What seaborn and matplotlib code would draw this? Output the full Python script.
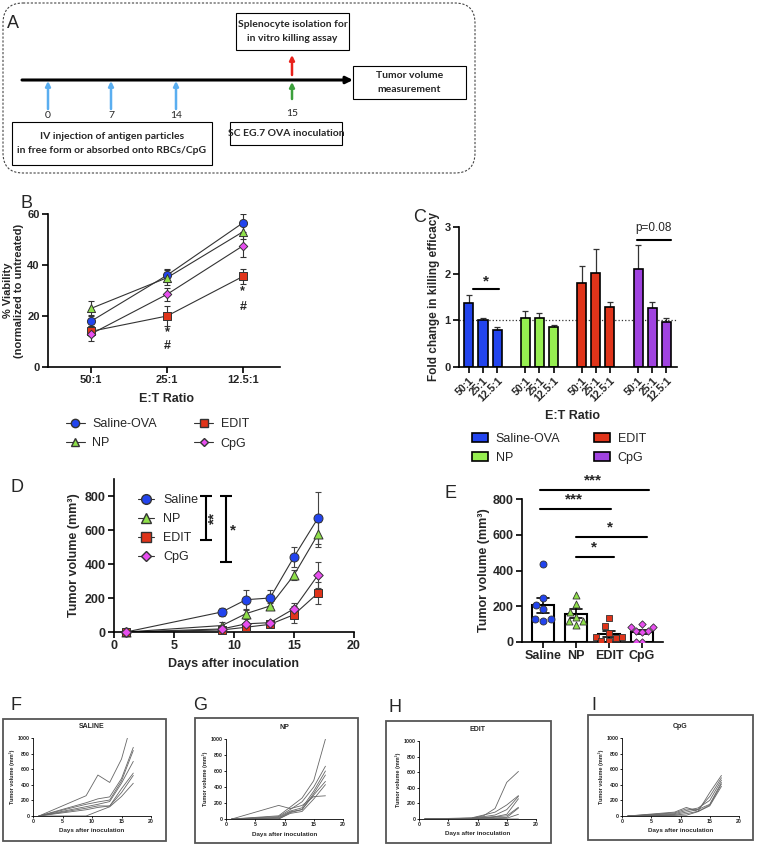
import numpy as np
import pandas as pd
import matplotlib
matplotlib.use("Agg")
import matplotlib.pyplot as plt
import seaborn as sns
from matplotlib.patches import FancyBboxPatch, Rectangle, Patch
from matplotlib.lines import Line2D

# ---------------- data ----------------
ratios = ["50:1", "25:1", "12.5:1"]
groups_b = ["Saline-OVA", "NP", "EDIT", "CpG"]

# B: % viability (mean, sem)
viab_saline = [18.0, 36.0, 56.5]
viab_np = [23.0, 35.0, 53.0]
viab_edit = [14.0, 20.0, 35.5]
viab_cpg = [13.0, 28.5, 47.5]
viab_saline_sem = [2.5, 2.5, 3.5]
viab_np_sem = [3.0, 3.0, 3.0]
viab_edit_sem = [2.0, 4.0, 3.0]
viab_cpg_sem = [3.0, 2.5, 4.5]

# C: fold change in killing efficacy
fold_saline = [1.38, 1.00, 0.80]
fold_np = [1.06, 1.05, 0.85]
fold_edit = [1.81, 2.02, 1.28]
fold_cpg = [2.09, 1.27, 0.96]
fold_saline_sem = [0.17, 0.05, 0.06]
fold_np_sem = [0.13, 0.11, 0.04]
fold_edit_sem = [0.36, 0.51, 0.11]
fold_cpg_sem = [0.52, 0.12, 0.10]

# D: tumor growth (mean, sem)
groups_d = ["Saline", "NP", "EDIT", "CpG"]
days = [1, 9, 11, 13, 15, 17]
vol_saline = [0, 118, 190, 200, 442, 670]
vol_np = [0, 38, 108, 153, 335, 575]
vol_edit = [0, 12, 28, 45, 102, 229]
vol_cpg = [0, 18, 48, 55, 137, 335]
vol_saline_sem = [0, 25, 58, 45, 57, 155]
vol_np_sem = [0, 22, 30, 15, 30, 75]
vol_edit_sem = [0, 6, 10, 10, 50, 65]
vol_cpg_sem = [0, 10, 10, 10, 35, 75]

# E: individual tumor volumes (day 13)
e_saline = [435, 245, 205, 187, 116, 128, 127]
e_np = [262, 215, 169, 140, 94, 118, 118]
e_edit = [135, 88, 51, 28, 6, 6, 22, 30]
e_cpg = [103, 84, 84, 60, 60, 56, 0, 0]

# F-I: individual mice
saline_mice = [[0, 260, 525, 430, 730, 1000],
               [0, 170, 220, 245, 480, 880],
               [0, 150, 180, 205, 450, 840],
               [0, 120, 150, 185, 420, 700],
               [0, 100, 130, 128, 350, 550],
               [0, 80, 110, 128, 300, 520],
               [0, 0, 60, 118, 250, 420]]
saline_mice_days = [[1, 9, 11, 13, 15, 16]] + [days] * 6
np_mice = [[0, 170, 130, 169, 280, 290],
           [0, 40, 150, 262, 480, 1000],
           [0, 30, 120, 215, 400, 660],
           [0, 20, 100, 140, 350, 600],
           [0, 10, 90, 118, 320, 550],
           [0, 0, 80, 118, 300, 470],
           [0, 0, 70, 94, 250, 430]]
edit_mice = [[0, 10, 40, 135, 470, 610],
             [0, 15, 50, 88, 180, 300],
             [0, 10, 30, 51, 120, 290],
             [0, 5, 20, 30, 60, 260],
             [0, 5, 15, 28, 40, 150],
             [0, 5, 10, 22, 20, 140],
             [0, 0, 5, 6, 10, 60],
             [0, 0, 0, 6, 0, 0]]
cpg_mice = [[0, 50, 110, 60, 300, 520],
            [0, 40, 90, 84, 250, 490],
            [0, 30, 70, 103, 200, 460],
            [0, 20, 50, 84, 150, 430],
            [0, 10, 30, 60, 140, 410],
            [0, 10, 10, 56, 130, 380],
            [0, 0, 0, 0, 0, 0],
            [0, 0, 0, 0, 0, 0]]

# ---------------- style ----------------
sns.set_theme(style="ticks")
plt.rcParams['font.family'] = ['Liberation Sans', 'DejaVu Sans']

blue, green, red, magenta, purple = '#2244ee', '#8fe04a', '#e0341a', '#e84ef0', '#a043e0'
pal_b = dict(zip(groups_b, [blue, green, red, magenta]))
pal_c = dict(zip(groups_b, [blue, '#96ee50', red, purple]))
pal_d = dict(zip(groups_d, [blue, green, red, magenta]))
mk_b = dict(zip(groups_b, ['o', '^', 's', 'D']))
mk_d = dict(zip(groups_d, ['o', '^', 's', 'D']))
msize = {'o': 1.0, '^': 1.0, 's': 0.9, 'D': 0.55}

W, H = 757, 847
fig = plt.figure(figsize=(W / 100, H / 100), dpi=100)


def px_axes(l, t, r, b):
    return fig.add_axes([l / W, 1 - b / H, (r - l) / W, (b - t) / H])


def gp_style(ax, size=8, lw=1.2, tick_len=4):
    sns.despine(ax=ax)
    for s in ['left', 'bottom']:
        ax.spines[s].set_linewidth(lw)
        ax.spines[s].set_color('black')
    ax.tick_params(labelsize=size, width=lw, length=tick_len, color='black', pad=2)
    for lab in ax.get_xticklabels() + ax.get_yticklabels():
        lab.set_fontweight('bold')


# overlay for panel A, letters, frames
ov = fig.add_axes([0, 0, 1, 1])
ov.set_xlim(0, W)
ov.set_ylim(H, 0)
ov.axis('off')

# ---------------- A: schematic ----------------
ov.add_patch(FancyBboxPatch((3, 3), 472, 170, boxstyle="round,pad=0,rounding_size=20",
                            fill=False, ls=(0, (2, 1.5)), lw=0.8, ec='#444'))
fa = dict(family=['Lato', 'DejaVu Sans'], fontsize=7.5, fontweight='bold', ha='center', va='center')
for (x0, y0, x1, y1), txt in [((236, 13, 349, 50), "Splenocyte isolation for\nin vitro killing assay"),
                              ((353, 66, 466, 99), "Tumor volume\nmeasurement"),
                              ((12, 122, 212, 165), "IV injection of antigen particles\nin free form or absorbed onto RBCs/CpG"),
                              ((230, 122, 342, 145), "SC EG.7 OVA inoculation")]:
    ov.add_patch(Rectangle((x0, y0), x1 - x0, y1 - y0, fill=False, ec='black', lw=0.8))
    ov.text((x0 + x1) / 2, (y0 + y1) / 2, txt, linespacing=1.6, **fa)
ov.annotate('', xy=(353, 80), xytext=(22, 80),
            arrowprops=dict(arrowstyle='-|>', lw=2.2, color='black', mutation_scale=10, shrinkA=0, shrinkB=0))
for x, lab in zip([48, 111, 176], ["0", "7", "14"]):
    ov.annotate('', xy=(x, 81), xytext=(x, 109),
                arrowprops=dict(arrowstyle='-|>', lw=1.8, color='#5aaef0', mutation_scale=7, shrinkA=0, shrinkB=0))
    ov.text(x, 116, lab, family=['Lato', 'DejaVu Sans'], fontsize=7.5, ha='center', va='center')
ov.annotate('', xy=(292, 82), xytext=(292, 99),
            arrowprops=dict(arrowstyle='-|>', lw=1.8, color='#3ca03c', mutation_scale=7, shrinkA=0, shrinkB=0))
ov.annotate('', xy=(292, 55), xytext=(292, 75),
            arrowprops=dict(arrowstyle='-|>', lw=1.8, color='#e8201a', mutation_scale=7, shrinkA=0, shrinkB=0))
ov.text(292, 113, "15", family=['Lato', 'DejaVu Sans'], fontsize=7.5, ha='center', va='center')

# panel letters
for x, y, s in [(7, 23, 'A'), (20, 203, 'B'), (413, 218, 'C'), (11, 487, 'D'), (445, 493, 'E'),
                (10, 705, 'F'), (193, 705, 'G'), (388, 707, 'H'), (591, 705, 'I')]:
    ov.text(x, y, s, fontsize=13, ha='left', va='center')

# frames of F-I
for x0, y0, x1, y1 in [(3, 719, 166, 841), (195, 718, 358, 843), (386, 721, 551, 843), (588, 715, 753, 840)]:
    ov.add_patch(Rectangle((x0, y0), x1 - x0, y1 - y0, fill=False, ec='#555', lw=1.3))


def mean_markers(ax, df, x, y, groups, pal, mk, s):
    for g in groups:
        sub = df[df.group == g]
        sns.scatterplot(data=sub, x=x, y=y, color=pal[g], marker=mk[g], s=s * msize[mk[g]],
                        edgecolor='#333', linewidth=0.7, ax=ax, legend=False, zorder=3, clip_on=False)


# ---------------- B ----------------
b_df = pd.DataFrame({
    "group": np.repeat(groups_b, 3),
    "ratio": ratios * 4,
    "viab": viab_saline + viab_np + viab_edit + viab_cpg,
    "sem": viab_saline_sem + viab_np_sem + viab_edit_sem + viab_cpg_sem,
})
b_df["x"] = b_df["ratio"].map({r: i for i, r in enumerate(ratios)})
ax = px_axes(48, 214, 280, 367)
ax.errorbar(b_df.x, b_df.viab, yerr=b_df["sem"], fmt='none', ecolor='#333', elinewidth=0.8,
            capsize=2.5, capthick=0.8, zorder=1)
sns.lineplot(data=b_df, x='x', y='viab', units='group', estimator=None, color='#333', lw=0.8,
             ax=ax, zorder=2, legend=False)
mean_markers(ax, b_df, 'x', 'viab', groups_b, pal_b, mk_b, 34)
ax.set_xlim(-0.57, 2.49)
ax.set_ylim(0, 60)
ax.set_xticks(range(3), ratios)
ax.set_yticks([0, 20, 40, 60])
ax.set_xlabel("E:T Ratio", fontsize=9, fontweight='bold')
ax.set_ylabel("% Viability\n(normalized to untreated)", fontsize=8, fontweight='bold', linespacing=1.1)
ax.xaxis.set_label_coords(0.51, -0.17)
ax.yaxis.set_label_coords(-0.105, 0.5)
gp_style(ax)
for x, y, s in [(1, 13.8, '*'), (1, 8.4, '#'), (2, 29.8, '*'), (2, 23.4, '#')]:
    ax.text(x, y, s, fontsize=9, fontweight='bold', ha='center', va='center')
hb = [Line2D([], [], color='#333', lw=0.8, marker=mk_b[g], markersize=6 * np.sqrt(msize[mk_b[g]]),
             markerfacecolor=pal_b[g], markeredgecolor='#333') for g in groups_b]
fig.legend(hb, groups_b, ncol=2, loc='upper left', bbox_to_anchor=(66 / W, 1 - 418 / H), frameon=False,
           fontsize=9, handlelength=1.5, handletextpad=0.6, columnspacing=3.0, labelspacing=0.6,
           borderpad=0, borderaxespad=0)

# ---------------- C ----------------
c_df = pd.DataFrame({
    "group": np.repeat(groups_b, 3),
    "ratio": ratios * 4,
    "fold": fold_saline + fold_np + fold_edit + fold_cpg,
    "sem": fold_saline_sem + fold_np_sem + fold_edit_sem + fold_cpg_sem,
})
c_df["x"] = np.repeat(np.arange(4) * 4, 3) + np.tile(np.arange(3), 4)
ax = px_axes(459, 227, 677, 367)
ax.axhline(1, ls=':', color='#333', lw=0.9, zorder=0.5)
ax.errorbar(c_df.x, c_df.fold, yerr=[np.zeros(len(c_df)), c_df["sem"]], fmt='none', ecolor='#333',
            elinewidth=0.9, capsize=2.5, capthick=0.9, zorder=0.8)
sns.barplot(data=c_df, x='x', y='fold', hue='group', hue_order=groups_b, palette=pal_c, native_scale=True,
            dodge=False, width=0.64, edgecolor='black', linewidth=1.2, errorbar=None, legend=False,
            saturation=1, ax=ax)
ax.set_xlim(-0.7, 14.75)
ax.set_ylim(0, 3)
ax.set_yticks([0, 1, 2, 3])
ax.set_xticks(c_df.x, c_df.ratio, rotation=45, ha='right', rotation_mode='anchor')
ax.set_xlabel("E:T Ratio", fontsize=9, fontweight='bold')
ax.set_ylabel("Fold change in killing efficacy", fontsize=8.5, fontweight='bold')
ax.xaxis.set_label_coords(0.52, -0.31)
ax.yaxis.set_label_coords(-0.085, 0.5)
gp_style(ax)
ax.tick_params(axis='x', labelsize=7.5)
ax.plot([0.28, 2.13], [1.68, 1.68], color='black', lw=1.5, clip_on=False)
ax.text(1.2, 1.83, '*', fontsize=11, fontweight='bold', ha='center', va='center')
ax.plot([11.94, 14.36], [2.72, 2.72], color='black', lw=1.5, clip_on=False)
ax.text(13.1, 2.98, 'p=0.08', fontsize=8.5, ha='center', va='center')
hc = [Patch(facecolor=pal_c[g], edgecolor='black', lw=1.2) for g in groups_b]
fig.legend(hc, groups_b, ncol=2, loc='upper left', bbox_to_anchor=(472 / W, 1 - 433 / H), frameon=False,
           fontsize=9, handlelength=1.3, handleheight=0.65, handletextpad=0.6, columnspacing=2.7,
           labelspacing=0.55, borderpad=0, borderaxespad=0)

# ---------------- D ----------------
d_df = pd.DataFrame({
    "group": np.repeat(groups_d, len(days)),
    "day": days * 4,
    "vol": vol_saline + vol_np + vol_edit + vol_cpg,
    "sem": vol_saline_sem + vol_np_sem + vol_edit_sem + vol_cpg_sem,
})
ax = px_axes(114, 479, 354, 632)
ax.errorbar(d_df.day, d_df.vol, yerr=d_df["sem"], fmt='none', ecolor='#444', elinewidth=0.8,
            capsize=2.5, capthick=0.8, zorder=1)
sns.lineplot(data=d_df, x='day', y='vol', units='group', estimator=None, color='#333', lw=0.8,
             ax=ax, zorder=2, legend=False)
mean_markers(ax, d_df, 'day', 'vol', groups_d, pal_d, mk_d, 42)
ax.set_xlim(0, 20)
ax.set_ylim(0, 900)
ax.set_xticks([0, 5, 10, 15, 20])
ax.set_yticks([0, 200, 400, 600, 800])
ax.set_xlabel("Days after inoculation", fontsize=9, fontweight='bold')
ax.set_ylabel("Tumor volume (mm³)", fontsize=9, fontweight='bold')
ax.xaxis.set_label_coords(0.5, -0.17)
ax.yaxis.set_label_coords(-0.14, 0.5)
gp_style(ax, size=9)
ax.errorbar([7.67], [670], yerr=[[130], [130]], fmt='none', ecolor='black', elinewidth=1.5, capsize=4, capthick=1.5)
ax.text(8.4, 670, '**', fontsize=11, fontweight='bold', rotation=90, ha='center', va='center')
ax.errorbar([9.33], [605], yerr=[[195], [195]], fmt='none', ecolor='black', elinewidth=1.5, capsize=4, capthick=1.5)
ax.text(9.9, 600, '*', fontsize=11, fontweight='bold', ha='center', va='center')
hd = [Line2D([], [], color='#333', lw=0.8, marker=mk_d[g], markersize=7 * np.sqrt(msize[mk_d[g]]),
             markerfacecolor=pal_d[g], markeredgecolor='#333') for g in groups_d]
ax.legend(hd, groups_d, loc='upper left', bbox_to_anchor=((138 - 114) / 240, 0.90), frameon=False,
          fontsize=9, handlelength=1.3, handletextpad=0.7, labelspacing=0.55, borderpad=0, borderaxespad=0)

# ---------------- E ----------------
e_df = pd.DataFrame({
    "group": ["Saline"] * len(e_saline) + ["NP"] * len(e_np) + ["EDIT"] * len(e_edit) + ["CpG"] * len(e_cpg),
    "vol": e_saline + e_np + e_edit + e_cpg,
})
ax = px_axes(522, 499, 663, 642)
sns.barplot(data=e_df, x='group', y='vol', order=groups_d, errorbar='se', capsize=0.35, color='white',
            edgecolor='black', linewidth=1.5, width=0.66, err_kws={'color': 'black', 'linewidth': 1.2}, ax=ax)
for g in groups_d:
    sns.swarmplot(data=e_df[e_df.group == g], x='group', y='vol', order=groups_d, marker=mk_d[g],
                  color=pal_d[g], size=4.6 * np.sqrt(msize[mk_d[g]]) * 1.1, edgecolor='#333', linewidth=0.6,
                  ax=ax, legend=False, zorder=4)
ax.set_xlim(-0.64, 3.64)
ax.set_ylim(0, 800)
ax.set_yticks([0, 200, 400, 600, 800])
ax.set_xlabel("")
ax.set_ylabel("Tumor volume (mm³)", fontsize=9, fontweight='bold')
ax.yaxis.set_label_coords(-0.227, 0.5)
gp_style(ax, size=9)
for (x0, x1, y), (tx, ty, s) in [((-0.1, 3.2, 852), (1.5, 905, '***')), ((-0.1, 2.06, 745), (0.95, 800, '***')),
                                 ((1.0, 3.15, 586), (2.03, 639, '*')), ((1.0, 2.15, 474), (1.55, 527, '*'))]:
    ax.plot([x0, x1], [y, y], color='black', lw=1.5, clip_on=False)
    ax.text(tx, ty, s, fontsize=11, fontweight='bold', ha='center', va='center', clip_on=False)


# ---------------- F-I ----------------
def small_panel(rect, mice, mouse_days, title):
    ax = px_axes(*rect)
    rows = []
    for i, (vals, dd) in enumerate(zip(mice, mouse_days)):
        rows += [{"mouse": i, "day": d, "vol": v} for d, v in zip(dd, vals)]
    df = pd.DataFrame(rows)
    sns.lineplot(data=df, x='day', y='vol', units='mouse', estimator=None, color='#666', lw=0.6,
                 ax=ax, legend=False)
    ax.set_xlim(0, 20)
    ax.set_ylim(0, 1000)
    ax.set_xticks([0, 5, 10, 15, 20])
    ax.set_yticks([0, 200, 400, 600, 800, 1000])
    ax.set_title(title, fontsize=5, fontweight='bold', pad=7)
    ax.set_xlabel("Days after inoculation", fontsize=4.5, fontweight='bold')
    ax.set_ylabel("Tumor volume (mm³)", fontsize=4, fontweight='bold')
    ax.xaxis.set_label_coords(0.5, -0.16)
    ax.yaxis.set_label_coords(-0.15, 0.5)
    gp_style(ax, size=3.8, lw=0.6, tick_len=1.5)
    ax.tick_params(pad=1)


small_panel((33, 738, 151, 816), saline_mice, saline_mice_days, "SALINE")
small_panel((226, 739, 343, 819), np_mice, [days] * len(np_mice), "NP")
small_panel((419, 741, 536, 819), edit_mice, [days] * len(edit_mice), "EDIT")
small_panel((622, 738, 739, 816), cpg_mice, [days] * len(cpg_mice), "CpG")

fig.savefig("out.png", dpi=100)
